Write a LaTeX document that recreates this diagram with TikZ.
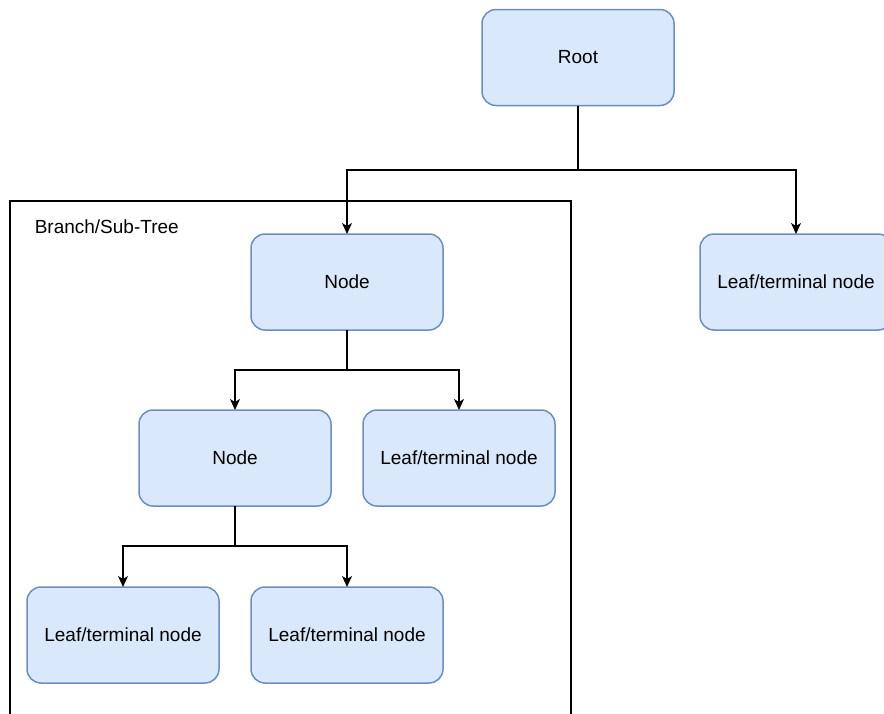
\documentclass[tikz,border=0pt]{standalone}
\usepackage{fontspec}
\setmainfont{Liberation Sans}
\usepackage{tikz}
\usetikzlibrary{arrows.meta, positioning}

\definecolor{boxfill}{HTML}{DAE8FC}
\definecolor{boxline}{HTML}{6C8EBF}

\begin{document}
\begin{tikzpicture}[
            x = 1pt, y = 1pt,
            > = {Stealth[length=11pt, width=10pt, inset=3pt]}, % arrow head style
            semithick, % line style
            line width = 1.5pt,
            font = \fontsize{19}{23}\selectfont
        ]

        \tikzstyle{treenode}=[
            draw = boxline,
            fill = boxfill,
            rounded corners = 14pt,
            minimum width = 192pt,
            minimum height = 96pt,
            inner sep = 0pt,
            outer sep = 0pt
        ]

        \useasboundingbox (0,0) rectangle (884,-713);
        \clip (0,0) rectangle (884,-713);

        % sub-tree frame
        \draw[black] (10,-201) rectangle (571,-740);
        \node[anchor=west, inner sep=0pt] (subtree) at (34,-227) {Branch/Sub-Tree};

        \node[treenode] (root) at (578,-57.5) {Root};
        \node[treenode] (branch) [below=128.5pt of root, xshift=-231pt] {Node};
        \node[treenode] (leafa) [below=128.5pt of root, xshift=218pt] {Leaf/terminal node};
        \node[treenode] (inner) [below=80pt of branch, xshift=-112pt] {Node};
        \node[treenode] (leafb) [below=80pt of branch, xshift=112pt] {Leaf/terminal node};
        \node[treenode] (leafc) [below=81pt of inner, xshift=-112pt] {Leaf/terminal node};
        \node[treenode] (leafd) [below=81pt of inner, xshift=112pt] {Leaf/terminal node};

        \draw[->] (root.south) -- ++(0,-64.5) -| (branch.north);
        \draw[->] (root.south) -- ++(0,-64.5) -| (leafa.north);
        \draw[->] (branch.south) -- ++(0,-40) -| (inner.north);
        \draw[->] (branch.south) -- ++(0,-40) -| (leafb.north);
        \draw[->] (inner.south) -- ++(0,-40) -| (leafc.north);
        \draw[->] (inner.south) -- ++(0,-40) -| (leafd.north);

    \end{tikzpicture}
\end{document}
